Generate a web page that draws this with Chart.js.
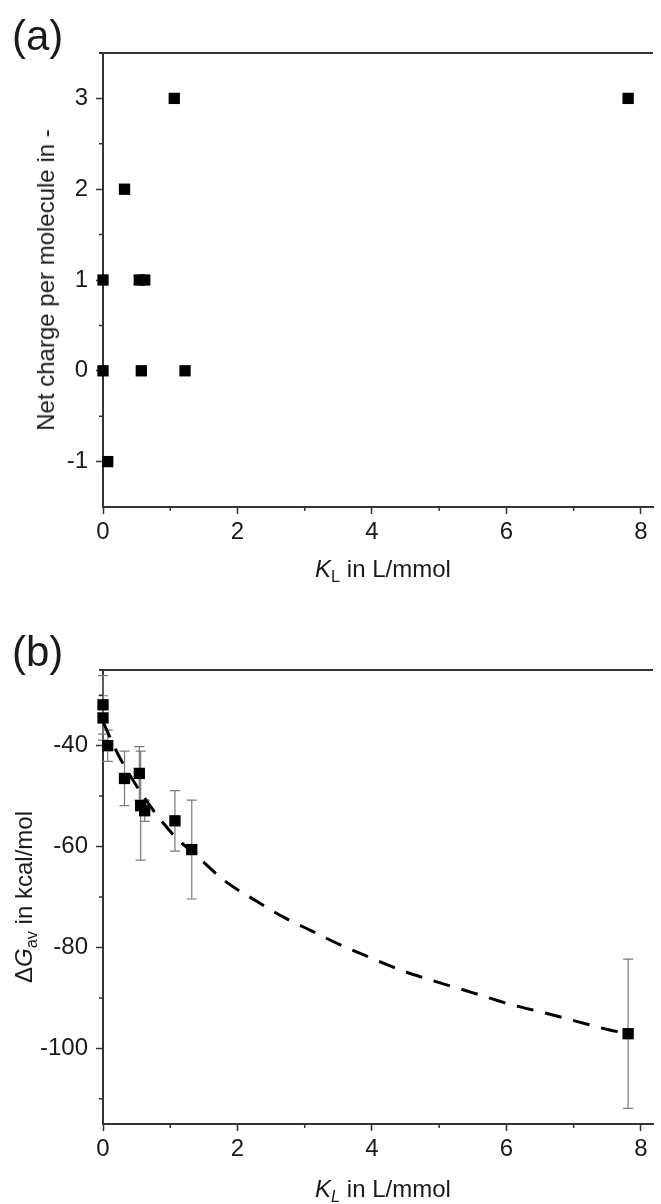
<!DOCTYPE html>
<html>
<head>
<meta charset="utf-8">
<script src="https://cdn.jsdelivr.net/npm/chart.js@4.4.0/dist/chart.umd.min.js"></script>
<style>
  body { margin: 0; background: #fff; }
  #wrap { position: relative; width: 661px; height: 1204px; overflow: hidden;
          font-family: 'Liberation Sans', Arial, sans-serif; color: #1a1a1a; }
  canvas { position: absolute; left: 0; }
  .panel { position: absolute; left: 12px; font-size: 42px; line-height: 1; }
  .xt { position: absolute; font-size: 24px; line-height: 1; white-space: nowrap; transform: translateX(-50%); }
  .yt { position: absolute; font-size: 24px; line-height: 1; white-space: nowrap;
        transform: translate(-50%, -50%) rotate(-90deg); }
  sub { font-size: 0.68em; vertical-align: -0.32em; line-height: 0; }
</style>
</head>
<body>
<div id="wrap">
  <canvas id="chartA" width="661" height="600" style="top:0"></canvas>
  <canvas id="chartB" width="661" height="604" style="top:600px"></canvas>

  <div class="panel" style="top:15px">(a)</div>
  <div class="panel" style="top:631px">(b)</div>

  <div class="yt" style="left:46px; top:280px">Net charge per molecule in -</div>
  <div class="xt" style="left:383px; top:557px"><i>K</i><sub>L</sub> in L/mmol</div>

  <div class="yt" style="left:24px; top:897px">&Delta;<i>G</i><sub>av</sub> in kcal/mol</div>
  <div class="xt" style="left:383px; top:1177px"><i>K</i><sub><i>L</i></sub> in L/mmol</div>
</div>

<script>
// (a) net charge per molecule against K_L
const kLA = [0, 0, 0.07, 0.32, 0.54, 0.57, 0.62, 1.06, 1.22, 7.81];
const chargeA = [1, 0, -1, 2, 1, 0, 1, 3, 0, 3];

// (b) average free energy against K_L, with error bars
const kLB = [0, 0, 0.07, 0.32, 0.54, 0.56, 0.62, 1.07, 1.32, 7.81];
const dGB = [-31.9, -34.5, -40.0, -46.5, -45.5, -51.9, -52.9, -54.9, -60.6, -97.1];
const dGErrB = [5.8, 4.4, 3.1, 5.4, 5.3, 10.8, 2.1, 6.0, 9.8, 14.8];

// dashed fit curve
const fitX = [0, 0.25, 0.5, 0.77, 1.07, 1.44, 1.79, 2.28, 2.7, 3.1, 3.53, 3.99, 4.45, 4.91, 5.48, 6.06, 6.55, 7.03, 7.52, 7.81];
const fitY = [-35.3, -42.4, -48.0, -53.2, -58.0, -62.4, -66.6, -70.8, -74.1, -76.7, -79.5, -82.1, -84.6, -86.6, -88.9, -91.3, -92.9, -94.6, -96.3, -97.1];

// tick labels
const xTicks = [0, 2, 4, 6, 8];
const xMinorTicks = [1, 3, 5, 7];
const yTicksA = [-1, 0, 1, 2, 3];
const yMinorTicksA = [-0.5, 0.5, 1.5, 2.5];
const yTicksB = [-100, -80, -60, -40];
const yMinorTicksB = [-110, -90, -70, -50, -30];

const AXIS = '#333333';
const FONT = { family: "'Liberation Sans', Arial, sans-serif", size: 24 };

// top frame line, minor ticks and error bars
const framePlugin = {
    id: 'frame',
    beforeDatasetsDraw(chart, args, opts) {
        if (!opts.err) return;
        const { ctx } = chart;
        const x = chart.scales.x, y = chart.scales.y;
        ctx.save();
        ctx.strokeStyle = '#7a7a7a';
        ctx.lineWidth = 1.2;
        opts.errX.forEach((xv, i) => {
            const px = x.getPixelForValue(xv);
            const top = y.getPixelForValue(opts.errY[i] + opts.err[i]);
            const bot = y.getPixelForValue(opts.errY[i] - opts.err[i]);
            ctx.beginPath();
            ctx.moveTo(px, top); ctx.lineTo(px, bot);
            ctx.moveTo(px - 5, top); ctx.lineTo(px + 5, top);
            ctx.moveTo(px - 5, bot); ctx.lineTo(px + 5, bot);
            ctx.stroke();
        });
        ctx.restore();
    },
    afterDraw(chart, args, opts) {
        const { ctx, chartArea } = chart;
        const x = chart.scales.x, y = chart.scales.y;
        ctx.save();
        ctx.strokeStyle = AXIS;
        ctx.lineWidth = 2;
        ctx.beginPath();
        ctx.moveTo(chartArea.left - 4, chartArea.top);
        ctx.lineTo(chartArea.right, chartArea.top);
        ctx.stroke();

        ctx.lineWidth = 1.5;
        ctx.beginPath();
        (opts.minorX || []).forEach(v => {
            const px = x.getPixelForValue(v);
            ctx.moveTo(px, chartArea.bottom);
            ctx.lineTo(px, chartArea.bottom + 4);
        });
        (opts.minorY || []).forEach(v => {
            const py = y.getPixelForValue(v);
            ctx.moveTo(chartArea.left, py);
            ctx.lineTo(chartArea.left - 4, py);
        });
        ctx.stroke();
        ctx.restore();
    }
};

function makeScales(yMin, yMax, yTicks, xHeight) {
    return {
        x: {
            type: 'linear',
            min: 0,
            max: 8.18,
            afterBuildTicks: s => { s.ticks = xTicks.map(v => ({ value: v })); },
            afterFit: s => { s.height = xHeight; },
            border: { display: true, color: AXIS, width: 2 },
            grid: { display: true, drawOnChartArea: false, drawTicks: true, tickLength: 7, tickWidth: 1.5, tickColor: AXIS },
            ticks: { font: FONT, color: '#1a1a1a', padding: 4, maxRotation: 0 }
        },
        y: {
            type: 'linear',
            min: yMin,
            max: yMax,
            afterBuildTicks: s => { s.ticks = yTicks.map(v => ({ value: v })); },
            afterFit: s => { s.width = 103; },
            border: { display: true, color: AXIS, width: 2 },
            grid: { display: true, drawOnChartArea: false, drawTicks: true, tickLength: 7, tickWidth: 1.5, tickColor: AXIS },
            ticks: { font: FONT, color: '#1a1a1a', padding: 8 }
        }
    };
}

const pointStyle = {
    pointStyle: 'rect',
    pointRadius: 8,
    pointBackgroundColor: '#000',
    pointBorderWidth: 0,
    showLine: false,
    clip: false
};

new Chart(document.getElementById('chartA'), {
    type: 'scatter',
    data: {
        datasets: [{
            label: 'Net charge',
            data: kLA.map((x, i) => ({ x: x, y: chargeA[i] })),
            ...pointStyle
        }]
    },
    options: {
        responsive: false,
        animation: false,
        layout: { padding: { top: 53, right: 0, left: 0, bottom: 0 } },
        scales: makeScales(-1.5, 3.5, yTicksA, 93),
        plugins: {
            legend: { display: false },
            tooltip: { enabled: false },
            frame: { minorX: xMinorTicks, minorY: yMinorTicksA }
        }
    },
    plugins: [framePlugin]
});

new Chart(document.getElementById('chartB'), {
    type: 'scatter',
    data: {
        datasets: [
            {
                label: 'dG av',
                data: kLB.map((x, i) => ({ x: x, y: dGB[i] })),
                order: 0,
                ...pointStyle
            },
            {
                label: 'fit',
                type: 'line',
                data: fitX.map((x, i) => ({ x: x, y: fitY[i] })),
                order: 1,
                borderColor: '#000',
                borderWidth: 3,
                borderDash: [17, 12],
                pointRadius: 0,
                cubicInterpolationMode: 'monotone',
                fill: false,
                clip: false
            }
        ]
    },
    options: {
        responsive: false,
        animation: false,
        layout: { padding: { top: 70, right: 0, left: 0, bottom: 0 } },
        scales: makeScales(-115, -25, yTicksB, 80),
        plugins: {
            legend: { display: false },
            tooltip: { enabled: false },
            frame: { minorX: xMinorTicks, minorY: yMinorTicksB, errX: kLB, errY: dGB, err: dGErrB }
        }
    },
    plugins: [framePlugin]
});
</script>
</body>
</html>
